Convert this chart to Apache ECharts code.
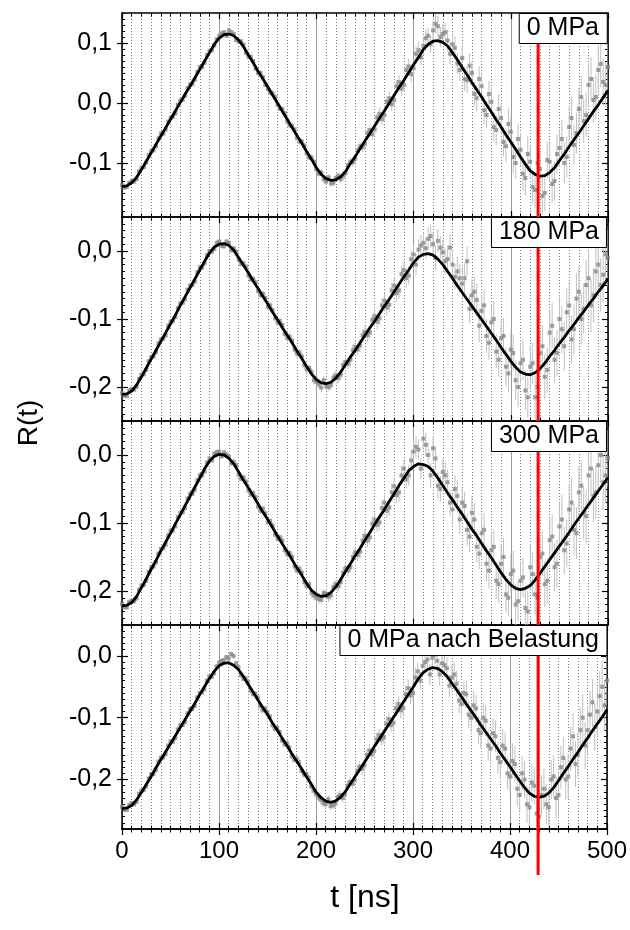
<!DOCTYPE html>
<html><head><meta charset="utf-8">
<script src="https://cdn.jsdelivr.net/npm/echarts@6/dist/echarts.min.js"></script>
<style>html,body{margin:0;padding:0;background:#fff}#c{width:630px;height:930px}</style>
</head><body><div id="c"></div>
<script>
// time axis of the measured points and fit (ns)
const T = [0,5,10,15,20,25,30,35,40,45,50,55,60,65,70,75,80,85,90,95,100,105,110,115,120,125,130,135,140,145,150,155,160,165,170,175,180,185,190,195,200,205,210,215,220,225,230,235,240,245,250,255,260,265,270,275,280,285,290,295,300,305,310,315,320,325,330,335,340,345,350,355,360,365,370,375,380,385,390,395,400,405,410,415,420,425,430,435,440,445,450,455,460,465,470,475,480,485,490,495,500];
// intermediate measurement times (ns)
const Tm = [2.5,7.5,12.5,17.5,22.5,27.5,32.5,37.5,42.5,47.5,52.5,57.5,62.5,67.5,72.5,77.5,82.5,87.5,92.5,97.5,102.5,107.5,112.5,117.5,122.5,127.5,132.5,137.5,142.5,147.5,152.5,157.5,162.5,167.5,172.5,177.5,182.5,187.5,192.5,197.5,202.5,207.5,212.5,217.5,222.5,227.5,232.5,237.5,242.5,247.5,252.5,257.5,262.5,267.5,272.5,277.5,282.5,287.5,292.5,297.5,302.5,307.5,312.5,317.5,322.5,327.5,332.5,337.5,342.5,347.5,352.5,357.5,362.5,367.5,372.5,377.5,382.5,387.5,392.5,397.5,402.5,407.5,412.5,417.5,422.5,427.5,432.5,437.5,442.5,447.5,452.5,457.5,462.5,467.5,472.5,477.5,482.5,487.5,492.5,497.5];

// ---- 0 MPa ----
const fit0 = [-0.139,-0.138,-0.133,-0.124,-0.111,-0.097,-0.083,-0.069,-0.055,-0.041,
 -0.027,-0.013,0.001,0.015,0.028,0.042,0.056,0.070,0.084,0.098,
 0.108,0.114,0.115,0.112,0.105,0.094,0.080,0.067,0.053,0.040,
 0.027,0.013,0.000,-0.014,-0.027,-0.041,-0.054,-0.067,-0.081,-0.094,
 -0.108,-0.119,-0.126,-0.129,-0.128,-0.123,-0.114,-0.101,-0.089,-0.076,
 -0.063,-0.051,-0.038,-0.025,-0.013,0.000,0.013,0.026,0.038,0.051,
 0.064,0.076,0.089,0.098,0.103,0.104,0.101,0.095,0.084,0.072,
 0.059,0.047,0.034,0.022,0.010,-0.003,-0.015,-0.028,-0.040,-0.053,
 -0.065,-0.077,-0.090,-0.102,-0.113,-0.119,-0.122,-0.121,-0.116,-0.108,
 -0.096,-0.085,-0.073,-0.061,-0.050,-0.038,-0.026,-0.014,-0.003,0.009,
 0.021];
const data0 = [-0.137,-0.140,-0.130,-0.127,-0.108,-0.099,-0.080,-0.072,-0.051,-0.044,
 -0.025,-0.017,0.004,0.012,0.031,0.039,0.060,0.067,0.087,0.096,
 0.112,0.118,0.121,0.115,0.102,0.097,0.077,0.070,0.050,0.043,
 0.023,0.016,-0.003,-0.010,-0.031,-0.038,-0.058,-0.064,-0.084,-0.091,
 -0.111,-0.116,-0.131,-0.134,-0.125,-0.127,-0.117,-0.098,-0.093,-0.072,
 -0.068,-0.045,-0.044,-0.018,-0.020,0.008,0.005,0.035,0.030,0.061,
 0.058,0.088,0.095,0.112,0.121,0.128,0.115,0.104,0.098,0.066,
 0.075,0.038,0.050,0.008,0.028,-0.020,0.002,-0.045,-0.025,-0.072,
 -0.048,-0.100,-0.078,-0.125,-0.098,-0.145,-0.110,-0.150,-0.098,-0.130,
 -0.075,-0.100,-0.040,-0.070,-0.010,-0.030,0.030,0.005,0.055,0.035,
 0.060];
const mid0 = [-0.141,-0.133,-0.131,-0.114,-0.107,-0.087,-0.079,-0.059,-0.051,-0.031,
 -0.023,-0.003,0.005,0.025,0.032,0.052,0.060,0.080,0.088,0.106,
 0.116,0.112,0.118,0.105,0.103,0.084,0.077,0.057,0.050,0.030,
 0.017,0.010,-0.010,-0.017,-0.037,-0.044,-0.064,-0.071,-0.091,-0.098,
 -0.118,-0.127,-0.124,-0.133,-0.121,-0.122,-0.104,-0.099,-0.079,-0.074,
 -0.050,-0.052,-0.024,-0.027,0.002,-0.002,0.028,0.024,0.055,0.048,
 0.082,0.076,0.108,0.098,0.132,0.110,0.118,0.082,0.092,0.055,
 0.040,0.062,0.015,0.040,-0.012,0.015,-0.040,-0.010,-0.065,-0.035,
 -0.090,-0.060,-0.118,-0.085,-0.140,-0.100,-0.155,-0.095,-0.135,-0.085,
 -0.060,-0.090,-0.025,-0.050,0.010,-0.020,0.040,0.010,0.065,0.030];
const err0 = [.003,.003,.004,.003,.003,.004,.003,.003,.004,.003,
 .003,.004,.003,.003,.004,.003,.004,.003,.003,.004,
 .004,.003,.004,.004,.003,.004,.004,.003,.004,.004,
 .004,.005,.004,.004,.005,.004,.005,.005,.004,.005,
 .005,.006,.005,.006,.006,.007,.006,.007,.007,.008,
 .008,.009,.008,.010,.009,.011,.010,.012,.011,.013,
 .013,.014,.015,.014,.016,.017,.016,.018,.019,.018,
 .020,.021,.020,.022,.023,.022,.024,.025,.024,.026,
 .027,.026,.028,.029,.028,.030,.031,.030,.032,.033,
 .032,.034,.035,.034,.036,.037,.036,.038,.039,.038,
 .040];

// ---- 180 MPa ----
const fit180 = [-0.211,-0.210,-0.206,-0.197,-0.185,-0.172,-0.159,-0.146,-0.133,-0.120,
 -0.107,-0.094,-0.080,-0.067,-0.054,-0.041,-0.028,-0.015,-0.003,0.006,
 0.010,0.011,0.008,0.001,-0.010,-0.021,-0.032,-0.044,-0.055,-0.067,
 -0.078,-0.090,-0.101,-0.113,-0.124,-0.135,-0.147,-0.158,-0.170,-0.181,
 -0.189,-0.194,-0.195,-0.193,-0.187,-0.178,-0.167,-0.156,-0.146,-0.135,
 -0.124,-0.113,-0.103,-0.092,-0.081,-0.071,-0.060,-0.049,-0.038,-0.028,
 -0.017,-0.009,-0.005,-0.004,-0.006,-0.012,-0.020,-0.030,-0.040,-0.051,
 -0.061,-0.071,-0.081,-0.091,-0.101,-0.111,-0.121,-0.131,-0.142,-0.152,
 -0.162,-0.171,-0.178,-0.181,-0.182,-0.179,-0.173,-0.165,-0.155,-0.146,
 -0.136,-0.127,-0.117,-0.108,-0.098,-0.089,-0.079,-0.070,-0.060,-0.051,
 -0.041];
const data180 = [-0.209,-0.213,-0.203,-0.200,-0.182,-0.175,-0.156,-0.149,-0.130,-0.124,
 -0.104,-0.097,-0.077,-0.071,-0.051,-0.045,-0.024,-0.018,0.000,0.003,
 0.014,0.007,0.012,0.004,-0.013,-0.018,-0.036,-0.041,-0.059,-0.063,
 -0.082,-0.087,-0.105,-0.109,-0.128,-0.132,-0.151,-0.155,-0.174,-0.178,
 -0.193,-0.201,-0.199,-0.197,-0.183,-0.182,-0.163,-0.160,-0.141,-0.139,
 -0.119,-0.120,-0.096,-0.099,-0.073,-0.079,-0.051,-0.058,-0.028,-0.036,
 -0.005,0.002,0.012,0.018,0.010,0.015,-0.002,-0.012,-0.020,-0.030,
 -0.048,-0.015,-0.065,-0.072,-0.088,-0.125,-0.105,-0.148,-0.128,-0.170,
 -0.145,-0.190,-0.165,-0.205,-0.170,-0.215,-0.150,-0.185,-0.120,-0.160,
 -0.100,-0.140,-0.080,-0.115,-0.060,-0.085,-0.040,-0.065,-0.020,-0.035,
 -0.010];
const mid180 = [-0.213,-0.205,-0.204,-0.188,-0.181,-0.162,-0.155,-0.136,-0.129,-0.110,
 -0.103,-0.084,-0.076,-0.057,-0.050,-0.031,-0.024,-0.006,-0.001,0.012,
 0.008,0.014,0.001,-0.001,-0.019,-0.023,-0.042,-0.046,-0.065,-0.069,
 -0.080,-0.099,-0.103,-0.122,-0.126,-0.145,-0.149,-0.168,-0.172,-0.190,
 -0.196,-0.190,-0.200,-0.186,-0.187,-0.168,-0.166,-0.146,-0.145,-0.124,
 -0.124,-0.101,-0.104,-0.080,-0.083,-0.058,-0.062,-0.034,-0.040,-0.012,
 -0.020,0.008,0.004,0.022,-0.010,0.005,-0.015,0.005,-0.038,-0.040,
 -0.040,-0.085,-0.060,-0.110,-0.080,-0.135,-0.100,-0.160,-0.125,-0.180,
 -0.150,-0.200,-0.160,-0.215,-0.165,-0.200,-0.140,-0.175,-0.110,-0.150,
 -0.115,-0.090,-0.130,-0.070,-0.100,-0.050,-0.080,-0.030,-0.050,-0.005];
const err180 = [.003,.004,.003,.003,.004,.003,.003,.004,.003,.004,
 .003,.004,.004,.003,.004,.003,.004,.004,.003,.004,
 .004,.004,.003,.004,.005,.004,.004,.005,.004,.005,
 .005,.004,.005,.005,.006,.005,.006,.006,.005,.006,
 .006,.007,.006,.007,.008,.007,.008,.009,.008,.009,
 .010,.009,.011,.010,.012,.011,.013,.012,.014,.013,
 .015,.016,.015,.017,.018,.017,.019,.020,.019,.021,
 .022,.021,.023,.024,.023,.025,.026,.025,.027,.028,
 .027,.029,.030,.029,.031,.032,.031,.033,.034,.033,
 .035,.036,.035,.037,.038,.037,.039,.040,.039,.041,
 .042];

// ---- 300 MPa ----
const fit300 = [-0.222,-0.221,-0.217,-0.208,-0.195,-0.182,-0.168,-0.155,-0.141,-0.128,
 -0.115,-0.101,-0.088,-0.074,-0.061,-0.047,-0.034,-0.020,-0.009,-0.002,
 0.001,0.000,-0.005,-0.013,-0.025,-0.037,-0.048,-0.060,-0.072,-0.084,
 -0.095,-0.107,-0.119,-0.131,-0.142,-0.154,-0.166,-0.177,-0.189,-0.199,
 -0.205,-0.208,-0.207,-0.202,-0.194,-0.183,-0.171,-0.160,-0.148,-0.137,
 -0.125,-0.114,-0.102,-0.091,-0.080,-0.068,-0.057,-0.045,-0.034,-0.023,
 -0.017,-0.013,-0.014,-0.017,-0.024,-0.034,-0.045,-0.056,-0.066,-0.077,
 -0.087,-0.098,-0.109,-0.119,-0.130,-0.141,-0.151,-0.162,-0.173,-0.183,
 -0.191,-0.196,-0.198,-0.196,-0.192,-0.184,-0.174,-0.164,-0.154,-0.144,
 -0.134,-0.124,-0.114,-0.103,-0.093,-0.083,-0.073,-0.063,-0.053,-0.043,
 -0.033];
const data300 = [-0.219,-0.224,-0.214,-0.211,-0.192,-0.185,-0.165,-0.158,-0.138,-0.132,
 -0.111,-0.105,-0.085,-0.078,-0.057,-0.051,-0.030,-0.024,-0.005,0.002,
 0.005,0.004,-0.002,-0.010,-0.029,-0.033,-0.052,-0.056,-0.076,-0.079,
 -0.099,-0.104,-0.123,-0.126,-0.146,-0.150,-0.170,-0.173,-0.193,-0.203,
 -0.210,-0.213,-0.204,-0.206,-0.190,-0.187,-0.166,-0.165,-0.143,-0.142,
 -0.119,-0.121,-0.095,-0.099,-0.070,-0.077,-0.046,-0.055,-0.020,-0.030,
 0.005,0.008,0.024,0.000,0.010,-0.045,-0.025,-0.040,-0.080,-0.060,
 -0.070,-0.110,-0.085,-0.135,-0.115,-0.160,-0.140,-0.185,-0.160,-0.205,
 -0.175,-0.220,-0.185,-0.225,-0.165,-0.205,-0.150,-0.190,-0.125,-0.165,
 -0.105,-0.140,-0.080,-0.110,-0.055,-0.085,-0.030,-0.060,-0.015,-0.040,
 -0.005];
const mid300 = [-0.224,-0.216,-0.215,-0.198,-0.191,-0.172,-0.164,-0.145,-0.137,-0.118,
 -0.111,-0.091,-0.084,-0.064,-0.057,-0.037,-0.030,-0.011,-0.008,0.004,
 -0.002,0.001,-0.012,-0.015,-0.035,-0.039,-0.058,-0.062,-0.082,-0.086,
 -0.097,-0.117,-0.121,-0.140,-0.144,-0.164,-0.167,-0.187,-0.190,-0.207,
 -0.212,-0.203,-0.209,-0.194,-0.193,-0.173,-0.170,-0.150,-0.147,-0.126,
 -0.126,-0.101,-0.103,-0.078,-0.082,-0.055,-0.059,-0.030,-0.036,-0.008,
 0.012,-0.020,0.015,-0.030,-0.005,-0.050,-0.030,-0.070,-0.050,-0.095,
 -0.075,-0.120,-0.095,-0.145,-0.110,-0.170,-0.135,-0.190,-0.150,-0.210,
 -0.170,-0.215,-0.180,-0.230,-0.175,-0.210,-0.145,-0.185,-0.120,-0.160,
 -0.095,-0.130,-0.070,-0.115,-0.045,-0.090,-0.020,-0.055,0.000,-0.030];
const err300 = [.003,.003,.004,.003,.004,.003,.004,.003,.003,.004,
 .004,.003,.004,.004,.003,.004,.004,.003,.004,.004,
 .004,.003,.004,.005,.004,.004,.005,.004,.005,.005,
 .004,.005,.005,.006,.005,.006,.005,.006,.006,.007,
 .007,.006,.007,.008,.007,.008,.009,.008,.009,.010,
 .010,.011,.010,.012,.011,.013,.012,.014,.013,.015,
 .016,.015,.017,.018,.017,.019,.020,.019,.021,.022,
 .021,.023,.024,.023,.025,.026,.025,.027,.028,.027,
 .029,.030,.029,.031,.032,.031,.033,.034,.033,.035,
 .036,.035,.037,.038,.037,.039,.040,.039,.041,.042,
 .041];

// ---- 0 MPa nach Belastung ----
const fitAfter = [-0.247,-0.246,-0.242,-0.233,-0.221,-0.208,-0.195,-0.181,-0.168,-0.155,
 -0.142,-0.129,-0.116,-0.103,-0.090,-0.077,-0.063,-0.050,-0.037,-0.025,
 -0.016,-0.012,-0.011,-0.015,-0.022,-0.033,-0.046,-0.058,-0.071,-0.083,
 -0.095,-0.108,-0.120,-0.133,-0.145,-0.158,-0.170,-0.182,-0.195,-0.207,
 -0.220,-0.229,-0.235,-0.237,-0.235,-0.229,-0.220,-0.208,-0.196,-0.184,
 -0.172,-0.160,-0.147,-0.135,-0.123,-0.111,-0.099,-0.087,-0.075,-0.063,
 -0.051,-0.038,-0.028,-0.022,-0.019,-0.020,-0.025,-0.033,-0.044,-0.055,
 -0.066,-0.078,-0.089,-0.100,-0.112,-0.123,-0.134,-0.145,-0.157,-0.168,
 -0.179,-0.191,-0.202,-0.213,-0.222,-0.227,-0.229,-0.227,-0.222,-0.213,
 -0.202,-0.190,-0.179,-0.167,-0.156,-0.144,-0.133,-0.121,-0.110,-0.099,
 -0.087];
const dataAfter = [-0.244,-0.249,-0.238,-0.236,-0.218,-0.211,-0.191,-0.185,-0.165,-0.159,
 -0.138,-0.133,-0.112,-0.107,-0.086,-0.081,-0.060,-0.054,-0.033,-0.028,
 -0.011,-0.007,-0.004,0.000,-0.018,-0.037,-0.042,-0.062,-0.067,-0.088,
 -0.091,-0.112,-0.116,-0.137,-0.141,-0.162,-0.166,-0.186,-0.191,-0.211,
 -0.224,-0.233,-0.240,-0.243,-0.239,-0.225,-0.224,-0.204,-0.201,-0.179,
 -0.177,-0.153,-0.154,-0.128,-0.131,-0.102,-0.108,-0.078,-0.084,-0.052,
 -0.060,-0.025,-0.016,-0.006,-0.003,-0.008,-0.012,-0.020,-0.035,-0.045,
 -0.078,-0.062,-0.100,-0.085,-0.125,-0.105,-0.150,-0.130,-0.172,-0.150,
 -0.195,-0.175,-0.225,-0.200,-0.245,-0.210,-0.260,-0.215,-0.245,-0.195,
 -0.225,-0.165,-0.195,-0.130,-0.160,-0.100,-0.120,-0.075,-0.090,-0.050,
 -0.040];
const midAfter = [-0.249,-0.241,-0.240,-0.223,-0.217,-0.198,-0.191,-0.171,-0.164,-0.145,
 -0.139,-0.119,-0.112,-0.093,-0.086,-0.067,-0.059,-0.040,-0.034,-0.017,
 -0.008,-0.002,0.003,-0.012,-0.031,-0.036,-0.056,-0.061,-0.081,-0.085,
 -0.098,-0.118,-0.123,-0.143,-0.148,-0.168,-0.172,-0.192,-0.197,-0.218,
 -0.229,-0.238,-0.232,-0.242,-0.228,-0.230,-0.210,-0.207,-0.186,-0.183,
 -0.160,-0.159,-0.135,-0.135,-0.110,-0.112,-0.085,-0.088,-0.062,-0.064,
 -0.035,-0.040,-0.010,-0.030,0.002,-0.030,-0.015,-0.048,-0.030,-0.072,
 -0.060,-0.095,-0.080,-0.120,-0.100,-0.145,-0.125,-0.165,-0.145,-0.190,
 -0.170,-0.215,-0.190,-0.240,-0.205,-0.255,-0.225,-0.240,-0.200,-0.230,
 -0.180,-0.200,-0.150,-0.175,-0.120,-0.145,-0.095,-0.115,-0.065,-0.080];
const errAfter = [.004,.003,.003,.004,.003,.003,.004,.003,.004,.003,
 .003,.004,.003,.004,.004,.003,.004,.003,.004,.004,
 .003,.004,.004,.005,.004,.004,.005,.004,.004,.005,
 .005,.005,.004,.005,.006,.005,.006,.005,.006,.006,
 .006,.007,.007,.006,.008,.007,.008,.008,.009,.009,
 .009,.010,.011,.010,.012,.011,.012,.013,.013,.014,
 .015,.014,.016,.017,.016,.018,.019,.018,.020,.021,
 .020,.022,.023,.022,.024,.025,.024,.026,.027,.026,
 .028,.029,.028,.030,.031,.030,.032,.033,.032,.034,
 .035,.034,.036,.037,.036,.038,.039,.038,.040,.041,
 .040];

const panelLabels = ['0 MPa', '180 MPa', '300 MPa', '0 MPa nach Belastung'];
const yMin = [-0.19, -0.25, -0.25, -0.28];
const yMax = [0.15, 0.05, 0.05, 0.05];
const yMajor = [[-0.1, 0, 0.1], [-0.2, -0.1, 0], [-0.2, -0.1, 0], [-0.2, -0.1, 0]];
const markerT = 429;
const xTitle = 't [ns]';
const yTitle = 'R(t)';

const fits = [fit0, fit180, fit300, fitAfter];
const datas = [data0, data180, data300, dataAfter];
const mids = [mid0, mid180, mid300, midAfter];
const errs = [err0, err180, err300, errAfter];

const FONT = '"Liberation Sans", Arial, Helvetica, sans-serif';
const chart = echarts.init(document.getElementById('c'));
const GT = 13, GH = 204;
const grids = [], xAxes = [], yAxes = [], series = [], titles = [];
const blk = {color: '#000', width: 1.2};
const fmt = v => v.toFixed(1).replace('.', ',');

const errRender = (params, api) => {
  const x = api.value(0), y = api.value(1), e = api.value(2);
  const a = api.coord([x, y - e]), b = api.coord([x, y + e]);
  return {type: 'line', shape: {x1: a[0], y1: a[1], x2: b[0], y2: b[1]},
          style: {stroke: '#c0c0c0', lineWidth: 1}};
};

for (let i = 0; i < 4; i++) {
  grids.push({left: 122, right: 22, top: GT + GH * i, height: GH});
  const xb = {type: 'value', gridIndex: i, min: 0, max: 500, interval: 100,
    axisLine: {show: true, onZero: false, lineStyle: {color: '#000', width: 1.5}},
    axisLabel: {show: false}, splitLine: {show: false}, minorSplitLine: {show: false}};
  xAxes.push(Object.assign({}, xb, {position: 'bottom',
    axisTick: {inside: true, length: 6, lineStyle: blk},
    minorTick: {show: true, splitNumber: 10, length: 3.5, lineStyle: {color: '#000', width: 1}},
    splitLine: {show: true, lineStyle: {color: '#999', width: 1}},
    minorSplitLine: {show: true, lineStyle: {color: '#808080', width: 1, type: [1, 2]}}}));
  xAxes.push(Object.assign({}, xb, {position: 'top',
    axisTick: {inside: true, length: 6, lineStyle: blk},
    minorTick: {show: true, splitNumber: 10, length: 3.5, lineStyle: {color: '#000', width: 1}}}));
  if (i === 3) {
    xAxes.push(Object.assign({}, xb, {position: 'bottom',
      axisTick: {inside: false, length: 6, lineStyle: blk},
      minorTick: {show: true, splitNumber: 10, length: 3.5, lineStyle: {color: '#000', width: 1}},
      axisLabel: {show: true, fontSize: 24, color: '#000', fontFamily: FONT, margin: 10}}));
  }
  const yb = {type: 'value', gridIndex: i, min: yMin[i], max: yMax[i],
    splitLine: {show: false}, axisLine: {show: false, onZero: false}, axisLabel: {show: false}};
  yAxes.push(Object.assign({}, yb, {position: 'left', interval: 0.01,
    axisTick: {inside: true, length: 3, lineStyle: {color: '#000', width: 1}}}));
  yAxes.push(Object.assign({}, yb, {position: 'left',
    axisLine: {show: true, onZero: false, lineStyle: {color: '#000', width: 1.5}},
    axisTick: {inside: false, length: 5, customValues: yMajor[i], lineStyle: blk},
    axisLabel: {show: true, customValues: yMajor[i], formatter: fmt, fontSize: 25,
                color: '#000', fontFamily: FONT, margin: 10}}));
  yAxes.push(Object.assign({}, yb, {position: 'left',
    axisTick: {inside: true, length: 6, customValues: yMajor[i], lineStyle: blk}}));
  yAxes.push(Object.assign({}, yb, {position: 'right', interval: 0.01,
    axisTick: {inside: true, length: 3, lineStyle: {color: '#000', width: 1}}}));
  yAxes.push(Object.assign({}, yb, {position: 'right',
    axisLine: {show: true, onZero: false, lineStyle: {color: '#000', width: 1.5}},
    axisTick: {inside: true, length: 6, customValues: yMajor[i], lineStyle: blk}}));

  const xi = 2 * i, yi = 5 * i + 1;
  const pts = T.map((t, k) => [t, datas[i][k], errs[i][k]])
    .concat(Tm.map((t, k) => [t, mids[i][k], errs[i][k]]));
  series.push({type: 'custom', xAxisIndex: xi, yAxisIndex: yi, clip: true, silent: true, z: 1,
    renderItem: errRender, data: pts});
  series.push({type: 'scatter', xAxisIndex: xi, yAxisIndex: yi, clip: true, silent: true, z: 2,
    symbol: 'rect', symbolSize: 4, itemStyle: {color: '#888'},
    data: pts.map(p => [p[0], p[1]])});
  series.push({type: 'line', xAxisIndex: xi, yAxisIndex: yi, clip: true, silent: true, z: 3,
    showSymbol: false, lineStyle: {color: '#000', width: 2.8},
    data: T.map((t, k) => [t, fits[i][k]])});

  titles.push({text: panelLabels[i], right: 23, top: GT + GH * i, padding: [3, 8],
    borderColor: '#000', borderWidth: 1, backgroundColor: '#fff', z: 10,
    textStyle: {fontSize: 25, fontWeight: 'normal', color: '#000', fontFamily: FONT}});
}

chart.setOption({animation: false, backgroundColor: '#fff',
  grid: grids, xAxis: xAxes, yAxis: yAxes, series: series, title: titles});

const xr = chart.convertToPixel({xAxisIndex: 6}, markerT);
const yTop = chart.convertToPixel({yAxisIndex: 1}, yMax[0]);
const yBot = chart.convertToPixel({yAxisIndex: 16}, yMin[3]);
chart.setOption({graphic: {elements: [
  {type: 'line', z: 5, silent: true, shape: {x1: xr, y1: yTop, x2: xr, y2: yBot + 46},
   style: {stroke: '#ff0000', lineWidth: 3}},
  {type: 'text', x: 29, y: 423, rotation: Math.PI / 2, silent: true,
   style: {text: yTitle, font: '28px ' + FONT, fill: '#000', textAlign: 'center', textVerticalAlign: 'middle'}},
  {type: 'text', x: 365, y: 898, silent: true,
   style: {text: xTitle, font: '32px ' + FONT, fill: '#000', textAlign: 'center', textVerticalAlign: 'middle'}}
]}});
</script></body></html>
